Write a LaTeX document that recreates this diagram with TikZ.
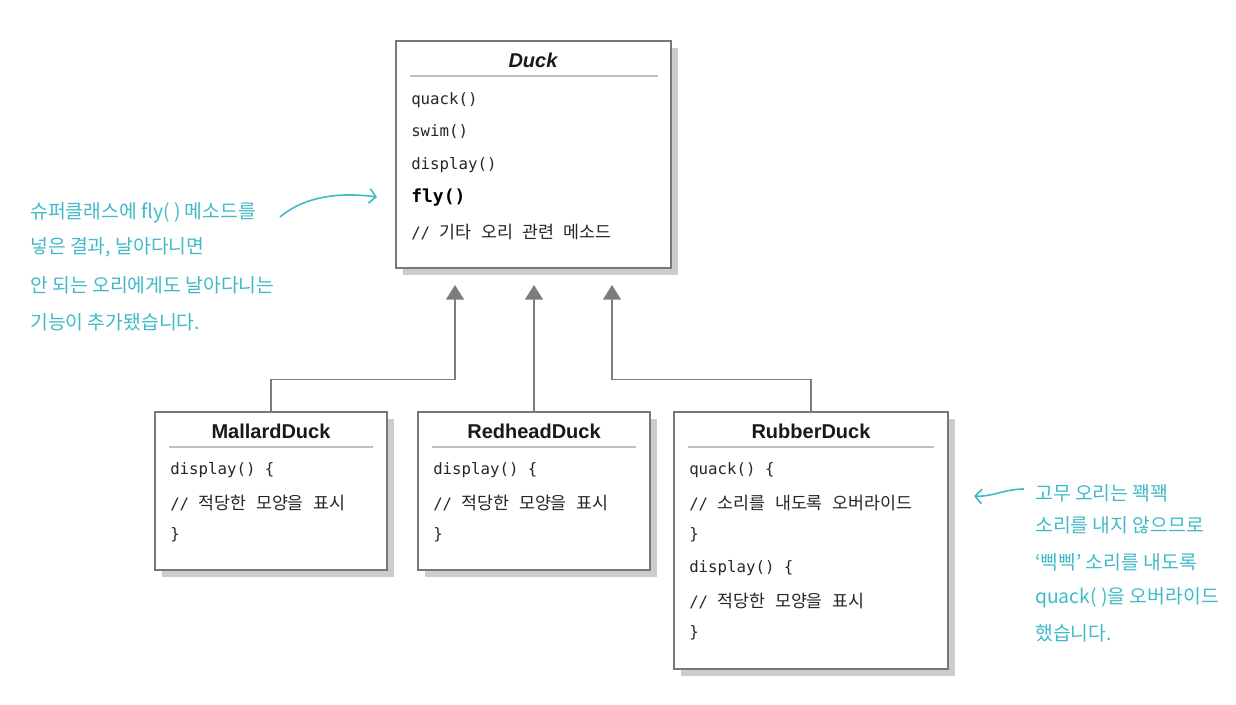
\documentclass[tikz,border=0pt]{standalone}
\usepackage{fontspec}
\setmainfont{Liberation Sans}
\newfontfamily\kr{Noto Sans CJK KR}
\newfontfamily\mono{DejaVu Sans Mono}
\newcommand\krc{\kr\fontsize{13}{16}\selectfont\spaceskip=0.55em\relax}
\usetikzlibrary{arrows.meta,shadows,fit}
\definecolor{annot}{RGB}{64,186,200}
\definecolor{boxline}{RGB}{120,120,120}
\definecolor{linkgray}{RGB}{125,125,125}
\tikzset{
  cls/.style={draw=boxline, line width=1pt, fill=white, inner sep=0pt,
    drop shadow={shadow xshift=5pt, shadow yshift=-5pt, opacity=1, fill=black!20}},
  clsname/.style={inner sep=0pt, text=black!90, font=\fontsize{15}{17}\selectfont\bfseries},
  member/.style={anchor=west, inner sep=0pt, text=black!85, font=\mono\fontsize{11.8}{14}\selectfont},
  sep/.style={draw=black!25, line width=0.8pt},
  inherit/.style={draw=linkgray, line width=1.1pt, -{Triangle[length=11pt,width=13.5pt]}},
  note/.style={anchor=west, inner sep=0pt, text=annot, font=\kr\fontsize{14.5}{16}\selectfont},
  notearrow/.style={draw=annot, line width=1.2pt, -{Straight Barb[length=5pt,width=11pt]}}
}
\begin{document}
\begin{tikzpicture}[x=0.75pt, y=-0.75pt]
  \useasboundingbox (0,0) rectangle (1236,704);

  % superclass
  \node[cls, fit={(396,41) (671,268)}] (duck) {};
  \node[clsname, font=\fontsize{15}{17}\selectfont\bfseries\itshape] (duckname) at (533,60) {Duck};
  \draw[sep] (410,76) -- (658,76);
  \node[member] (dquack) at (411,100) {quack()};
  \node[member] (dswim) at (411,132) {swim()};
  \node[member] (ddisplay) at (411,165) {display()};
  \node[member, text=black, font=\mono\bfseries\fontsize{13.5}{16}\selectfont] (dfly) at (411,198) {fly()};
  \node[member] (dother) at (411,232) {// {\krc 기타 오리 관련 메소드}};

  % subclasses
  \node[cls, fit={(155,412) (387,570)}] (mallard) {};
  \node[clsname] (mallardname) at (271,431) {MallardDuck};
  \draw[sep] (169,447) -- (373,447);
  \node[member] (mdisplay) at (170,470) {display() \{};
  \node[member] (mbody) at (170,503) {// {\krc 적당한 모양을 표시}};
  \node[member] (mend) at (170,535) {\}};

  \node[cls, fit={(418,412) (650,570)}] (redhead) {};
  \node[clsname] (redheadname) at (534,431) {RedheadDuck};
  \draw[sep] (432,447) -- (636,447);
  \node[member] (rdisplay) at (433,470) {display() \{};
  \node[member] (rbody) at (433,503) {// {\krc 적당한 모양을 표시}};
  \node[member] (rend) at (433,535) {\}};

  \node[cls, fit={(674,412) (948,669)}] (rubber) {};
  \node[clsname] (rubbername) at (811,431) {RubberDuck};
  \draw[sep] (688,447) -- (934,447);
  \node[member] (uquack) at (689,470) {quack() \{};
  \node[member] (uqbody) at (689,503) {// {\krc 소리를 내도록 오버라이드}};
  \node[member] (uqend) at (689,535) {\}};
  \node[member] (udisplay) at (689,568) {display() \{};
  \node[member] (udbody) at (689,601) {// {\krc 적당한 모양을 표시}};
  \node[member] (udend) at (689,633) {\}};

  % inheritance
  \coordinate (tipm) at (455,285);
  \coordinate (tipr) at (534,285);
  \coordinate (tipu) at (612,285);
  \draw[inherit] (mallard.north) -- ++(0,-32) -| (tipm);
  \draw[inherit] (redhead.north) -- (tipr);
  \draw[inherit] (rubber.north) -- ++(0,-32) -| (tipu);

  % notes
  \node[note] (fly1) at (30,213) {슈퍼클래스에 fly( ) 메소드를};
  \node[note] (fly2) at (30,247) {넣은 결과, 날아다니면};
  \node[note] (fly3) at (30,285) {안 되는 오리에게도 날아다니는};
  \node[note] (fly4) at (30,322) {기능이 추가됐습니다.};
  \coordinate (flyfrom) at (280,217);
  \coordinate (flyto) at (377,197);
  \draw[notearrow] (flyfrom) .. controls (305,196) and (340,192) .. (flyto);

  \node[note] (quack1) at (1035,493) {고무 오리는 꽥꽥};
  \node[note] (quack2) at (1035,525) {소리를 내지 않으므로};
  \node[note] (quack3) at (1035,562) {‘삑삑’ 소리를 내도록};
  \node[note] (quack4) at (1035,598) {quack( )을 오버라이드};
  \node[note] (quack5) at (1035,633) {했습니다.};
  \coordinate (quackfrom) at (1024,489);
  \coordinate (quackto) at (974,496);
  \draw[notearrow] (quackfrom) .. controls (1005,489) and (992,497) .. (quackto);
\end{tikzpicture}
\end{document}
